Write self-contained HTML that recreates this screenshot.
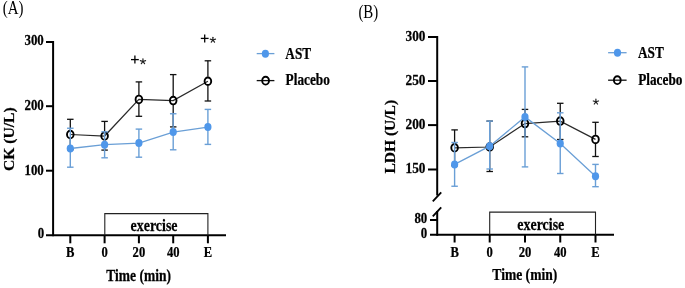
<!DOCTYPE html>
<html><head><meta charset="utf-8"><style>
html,body{margin:0;padding:0;background:#fff;width:685px;height:288px;overflow:hidden}
svg{display:block;will-change:transform;filter:blur(0.3px)}
text{font-family:"Liberation Serif",serif;stroke:#000;stroke-width:0.25px}
</style></head><body>
<svg width="685" height="288" viewBox="0 0 685 288">
<rect width="685" height="288" fill="#fff"/>
<line x1="53.1" y1="41.0" x2="53.1" y2="236.2" stroke="#000" stroke-width="2"/>
<line x1="46" y1="235.2" x2="226" y2="235.2" stroke="#000" stroke-width="2"/>
<line x1="46" y1="42.0" x2="53.1" y2="42.0" stroke="#000" stroke-width="2"/>
<text transform="translate(43.8,44.9) scale(0.92,1)" font-family="Liberation Serif" font-size="14" font-weight="bold" text-anchor="end" fill="#000">300</text>
<line x1="46" y1="106.2" x2="53.1" y2="106.2" stroke="#000" stroke-width="2"/>
<text transform="translate(43.8,109.8) scale(0.92,1)" font-family="Liberation Serif" font-size="14" font-weight="bold" text-anchor="end" fill="#000">200</text>
<line x1="46" y1="170.7" x2="53.1" y2="170.7" stroke="#000" stroke-width="2"/>
<text transform="translate(43.8,174.55) scale(0.92,1)" font-family="Liberation Serif" font-size="14" font-weight="bold" text-anchor="end" fill="#000">100</text>
<text transform="translate(44.2,238.3) scale(0.92,1)" font-family="Liberation Serif" font-size="14" font-weight="bold" text-anchor="end" fill="#000">0</text>
<line x1="70.3" y1="235.2" x2="70.3" y2="243.3" stroke="#000" stroke-width="2"/>
<text transform="translate(70.3,256.5) scale(0.9,1)" font-family="Liberation Serif" font-size="14" font-weight="bold" text-anchor="middle" fill="#000">B</text>
<line x1="104.6" y1="235.2" x2="104.6" y2="243.3" stroke="#000" stroke-width="2"/>
<text transform="translate(104.6,256.5) scale(0.9,1)" font-family="Liberation Serif" font-size="14" font-weight="bold" text-anchor="middle" fill="#000">0</text>
<line x1="138.9" y1="235.2" x2="138.9" y2="243.3" stroke="#000" stroke-width="2"/>
<text transform="translate(138.9,256.5) scale(0.9,1)" font-family="Liberation Serif" font-size="14" font-weight="bold" text-anchor="middle" fill="#000">20</text>
<line x1="173.2" y1="235.2" x2="173.2" y2="243.3" stroke="#000" stroke-width="2"/>
<text transform="translate(173.2,256.5) scale(0.9,1)" font-family="Liberation Serif" font-size="14" font-weight="bold" text-anchor="middle" fill="#000">40</text>
<line x1="207.9" y1="235.2" x2="207.9" y2="243.3" stroke="#000" stroke-width="2"/>
<text transform="translate(207.9,256.5) scale(0.9,1)" font-family="Liberation Serif" font-size="14" font-weight="bold" text-anchor="middle" fill="#000">E</text>
<path d="M104.8 235.2 V213.6 H207.9 V235.2" fill="none" stroke="#222" stroke-width="1.1"/>
<text transform="translate(154.05,230.9) scale(0.82,1)" font-family="Liberation Serif" font-size="17" font-weight="bold" text-anchor="middle" fill="#000">exercise</text>
<text transform="translate(138.6,280.8) scale(0.86,1)" font-family="Liberation Serif" font-size="15.7" font-weight="bold" text-anchor="middle" fill="#000">Time (min)</text>
<text transform="translate(13.5,139.2) rotate(-90) scale(1,0.95)" font-family="Liberation Serif" font-size="15.6" font-weight="bold" text-anchor="middle" fill="#000">CK (U/L)</text>
<text transform="translate(2.8,14.0) scale(0.82,1)" font-family="Liberation Serif" font-size="18.2" font-weight="normal" text-anchor="start" fill="#000" style="stroke:none">(A)</text>
<line x1="70.3" y1="119.3" x2="70.3" y2="130.0" stroke="#111" stroke-width="1.3"/>
<line x1="70.3" y1="139.0" x2="70.3" y2="149.7" stroke="#111" stroke-width="1.3"/>
<line x1="67.05" y1="119.3" x2="73.55" y2="119.3" stroke="#111" stroke-width="1.3"/>
<line x1="67.05" y1="149.7" x2="73.55" y2="149.7" stroke="#111" stroke-width="1.3"/>
<line x1="104.6" y1="121.4" x2="104.6" y2="131.5" stroke="#111" stroke-width="1.3"/>
<line x1="104.6" y1="140.5" x2="104.6" y2="150.1" stroke="#111" stroke-width="1.3"/>
<line x1="101.35" y1="121.4" x2="107.85" y2="121.4" stroke="#111" stroke-width="1.3"/>
<line x1="101.35" y1="150.1" x2="107.85" y2="150.1" stroke="#111" stroke-width="1.3"/>
<line x1="138.9" y1="81.9" x2="138.9" y2="94.9" stroke="#111" stroke-width="1.3"/>
<line x1="138.9" y1="103.9" x2="138.9" y2="116.3" stroke="#111" stroke-width="1.3"/>
<line x1="135.65" y1="81.9" x2="142.15" y2="81.9" stroke="#111" stroke-width="1.3"/>
<line x1="135.65" y1="116.3" x2="142.15" y2="116.3" stroke="#111" stroke-width="1.3"/>
<line x1="173.2" y1="74.6" x2="173.2" y2="96.1" stroke="#111" stroke-width="1.3"/>
<line x1="173.2" y1="105.1" x2="173.2" y2="126.9" stroke="#111" stroke-width="1.3"/>
<line x1="169.95" y1="74.6" x2="176.45" y2="74.6" stroke="#111" stroke-width="1.3"/>
<line x1="169.95" y1="126.9" x2="176.45" y2="126.9" stroke="#111" stroke-width="1.3"/>
<line x1="207.9" y1="60.8" x2="207.9" y2="76.75" stroke="#111" stroke-width="1.3"/>
<line x1="207.9" y1="85.75" x2="207.9" y2="101" stroke="#111" stroke-width="1.3"/>
<line x1="204.65" y1="60.8" x2="211.15" y2="60.8" stroke="#111" stroke-width="1.3"/>
<line x1="204.65" y1="101" x2="211.15" y2="101" stroke="#111" stroke-width="1.3"/>
<polyline points="70.3,134.5 104.6,136 138.9,99.4 173.2,100.6 207.9,81.25" fill="none" stroke="#2a2a2a" stroke-width="1.25"/>
<ellipse cx="70.3" cy="134.5" rx="3.3" ry="3.8" fill="none" stroke="#000" stroke-width="1.9"/>
<ellipse cx="104.6" cy="136" rx="3.3" ry="3.8" fill="none" stroke="#000" stroke-width="1.9"/>
<ellipse cx="138.9" cy="99.4" rx="3.3" ry="3.8" fill="none" stroke="#000" stroke-width="1.9"/>
<ellipse cx="173.2" cy="100.6" rx="3.3" ry="3.8" fill="none" stroke="#000" stroke-width="1.9"/>
<ellipse cx="207.9" cy="81.25" rx="3.3" ry="3.8" fill="none" stroke="#000" stroke-width="1.9"/>
<line x1="70.3" y1="128.25" x2="70.3" y2="167.2" stroke="#6a9fd6" stroke-width="1.4"/>
<line x1="67.05" y1="128.25" x2="73.55" y2="128.25" stroke="#6a9fd6" stroke-width="1.4"/>
<line x1="67.05" y1="167.2" x2="73.55" y2="167.2" stroke="#6a9fd6" stroke-width="1.4"/>
<line x1="104.6" y1="131.8" x2="104.6" y2="157.8" stroke="#6a9fd6" stroke-width="1.4"/>
<line x1="101.35" y1="131.8" x2="107.85" y2="131.8" stroke="#6a9fd6" stroke-width="1.4"/>
<line x1="101.35" y1="157.8" x2="107.85" y2="157.8" stroke="#6a9fd6" stroke-width="1.4"/>
<line x1="138.9" y1="129.1" x2="138.9" y2="157.2" stroke="#6a9fd6" stroke-width="1.4"/>
<line x1="135.65" y1="129.1" x2="142.15" y2="129.1" stroke="#6a9fd6" stroke-width="1.4"/>
<line x1="135.65" y1="157.2" x2="142.15" y2="157.2" stroke="#6a9fd6" stroke-width="1.4"/>
<line x1="173.2" y1="113.75" x2="173.2" y2="149.8" stroke="#6a9fd6" stroke-width="1.4"/>
<line x1="169.95" y1="113.75" x2="176.45" y2="113.75" stroke="#6a9fd6" stroke-width="1.4"/>
<line x1="169.95" y1="149.8" x2="176.45" y2="149.8" stroke="#6a9fd6" stroke-width="1.4"/>
<line x1="207.9" y1="109.4" x2="207.9" y2="144.4" stroke="#6a9fd6" stroke-width="1.4"/>
<line x1="204.65" y1="109.4" x2="211.15" y2="109.4" stroke="#6a9fd6" stroke-width="1.4"/>
<line x1="204.65" y1="144.4" x2="211.15" y2="144.4" stroke="#6a9fd6" stroke-width="1.4"/>
<polyline points="70.3,148.5 104.6,144.7 138.9,143.1 173.2,132.1 207.9,127.1" fill="none" stroke="#6a9fd6" stroke-width="1.3"/>
<ellipse cx="70.3" cy="148.5" rx="3.6" ry="4.0" fill="#4f97ea"/>
<ellipse cx="104.6" cy="144.7" rx="3.6" ry="4.0" fill="#4f97ea"/>
<ellipse cx="138.9" cy="143.1" rx="3.6" ry="4.0" fill="#4f97ea"/>
<ellipse cx="173.2" cy="132.1" rx="3.6" ry="4.0" fill="#4f97ea"/>
<ellipse cx="207.9" cy="127.1" rx="3.6" ry="4.0" fill="#4f97ea"/>
<line x1="131.0" y1="59.6" x2="138.8" y2="59.6" stroke="#000" stroke-width="1.3"/>
<line x1="134.9" y1="55.6" x2="134.9" y2="63.6" stroke="#000" stroke-width="1.3"/>
<line x1="142.95" y1="61.5" x2="142.95" y2="58.75" stroke="#222" stroke-width="1.2" stroke-linecap="round"/>
<line x1="142.95" y1="61.5" x2="145.57" y2="60.65" stroke="#222" stroke-width="1.2" stroke-linecap="round"/>
<line x1="142.95" y1="61.5" x2="144.57" y2="63.72" stroke="#222" stroke-width="1.2" stroke-linecap="round"/>
<line x1="142.95" y1="61.5" x2="141.33" y2="63.72" stroke="#222" stroke-width="1.2" stroke-linecap="round"/>
<line x1="142.95" y1="61.5" x2="140.33" y2="60.65" stroke="#222" stroke-width="1.2" stroke-linecap="round"/>
<line x1="200.79999999999998" y1="38.4" x2="208.6" y2="38.4" stroke="#000" stroke-width="1.3"/>
<line x1="204.7" y1="34.4" x2="204.7" y2="42.4" stroke="#000" stroke-width="1.3"/>
<line x1="212.9" y1="40.0" x2="212.90" y2="37.25" stroke="#222" stroke-width="1.2" stroke-linecap="round"/>
<line x1="212.9" y1="40.0" x2="215.52" y2="39.15" stroke="#222" stroke-width="1.2" stroke-linecap="round"/>
<line x1="212.9" y1="40.0" x2="214.52" y2="42.22" stroke="#222" stroke-width="1.2" stroke-linecap="round"/>
<line x1="212.9" y1="40.0" x2="211.28" y2="42.22" stroke="#222" stroke-width="1.2" stroke-linecap="round"/>
<line x1="212.9" y1="40.0" x2="210.28" y2="39.15" stroke="#222" stroke-width="1.2" stroke-linecap="round"/>
<line x1="256.7" y1="53.6" x2="274.4" y2="53.6" stroke="#6a9fd6" stroke-width="1.3"/>
<ellipse cx="265.4" cy="53.8" rx="3.6" ry="4.0" fill="#4f97ea"/>
<text transform="translate(285.3,58.8) scale(0.83,1)" font-family="Liberation Serif" font-size="16" font-weight="bold" text-anchor="start" fill="#000">AST</text>
<line x1="256.7" y1="80.6" x2="274.4" y2="80.6" stroke="#111" stroke-width="1.3"/>
<ellipse cx="265.6" cy="80.7" rx="3.4" ry="3.9" fill="none" stroke="#000" stroke-width="1.9"/>
<text transform="translate(285.6,84.8) scale(0.83,1)" font-family="Liberation Serif" font-size="16" font-weight="bold" text-anchor="start" fill="#000">Placebo</text>
<line x1="437.2" y1="36" x2="437.2" y2="195.5" stroke="#000" stroke-width="2"/>
<line x1="437.2" y1="211" x2="437.2" y2="235.8" stroke="#000" stroke-width="2"/>
<line x1="441.2" y1="192.3" x2="432.8" y2="201.3" stroke="#000" stroke-width="1.8"/>
<line x1="441.2" y1="207.3" x2="432.8" y2="216.3" stroke="#000" stroke-width="1.8"/>
<line x1="430" y1="234.8" x2="614" y2="234.8" stroke="#000" stroke-width="2"/>
<line x1="428" y1="37.0" x2="437.2" y2="37.0" stroke="#000" stroke-width="2"/>
<text transform="translate(425.5,40.6) scale(0.95,1)" font-family="Liberation Serif" font-size="14" font-weight="bold" text-anchor="end" fill="#000">300</text>
<line x1="428" y1="81.0" x2="437.2" y2="81.0" stroke="#000" stroke-width="2"/>
<text transform="translate(425.5,84.9) scale(0.95,1)" font-family="Liberation Serif" font-size="14" font-weight="bold" text-anchor="end" fill="#000">250</text>
<line x1="428" y1="125.1" x2="437.2" y2="125.1" stroke="#000" stroke-width="2"/>
<text transform="translate(425.5,128.5) scale(0.95,1)" font-family="Liberation Serif" font-size="14" font-weight="bold" text-anchor="end" fill="#000">200</text>
<line x1="428" y1="169.5" x2="437.2" y2="169.5" stroke="#000" stroke-width="2"/>
<text transform="translate(425.5,173.1) scale(0.95,1)" font-family="Liberation Serif" font-size="14" font-weight="bold" text-anchor="end" fill="#000">150</text>
<line x1="430" y1="220" x2="437.2" y2="220" stroke="#000" stroke-width="2"/>
<text transform="translate(427.3,223.1) scale(0.92,1)" font-family="Liberation Serif" font-size="14" font-weight="bold" text-anchor="end" fill="#000">80</text>
<text transform="translate(427.3,237.9) scale(0.92,1)" font-family="Liberation Serif" font-size="14" font-weight="bold" text-anchor="end" fill="#000">0</text>
<line x1="454.6" y1="234.8" x2="454.6" y2="242.5" stroke="#000" stroke-width="2"/>
<text transform="translate(454.6,256.5) scale(0.9,1)" font-family="Liberation Serif" font-size="14" font-weight="bold" text-anchor="middle" fill="#000">B</text>
<line x1="489.7" y1="234.8" x2="489.7" y2="242.5" stroke="#000" stroke-width="2"/>
<text transform="translate(489.7,256.5) scale(0.9,1)" font-family="Liberation Serif" font-size="14" font-weight="bold" text-anchor="middle" fill="#000">0</text>
<line x1="525.0" y1="234.8" x2="525.0" y2="242.5" stroke="#000" stroke-width="2"/>
<text transform="translate(525.0,256.5) scale(0.9,1)" font-family="Liberation Serif" font-size="14" font-weight="bold" text-anchor="middle" fill="#000">20</text>
<line x1="560.25" y1="234.8" x2="560.25" y2="242.5" stroke="#000" stroke-width="2"/>
<text transform="translate(560.25,256.5) scale(0.9,1)" font-family="Liberation Serif" font-size="14" font-weight="bold" text-anchor="middle" fill="#000">40</text>
<line x1="595.5" y1="234.8" x2="595.5" y2="242.5" stroke="#000" stroke-width="2"/>
<text transform="translate(595.5,256.5) scale(0.9,1)" font-family="Liberation Serif" font-size="14" font-weight="bold" text-anchor="middle" fill="#000">E</text>
<path d="M489.7 234.8 V212.1 H595.5 V234.8" fill="none" stroke="#222" stroke-width="1.1"/>
<text transform="translate(540.8000000000001,230.2) scale(0.82,1)" font-family="Liberation Serif" font-size="17" font-weight="bold" text-anchor="middle" fill="#000">exercise</text>
<text transform="translate(524.8,280.4) scale(0.865,1)" font-family="Liberation Serif" font-size="15.7" font-weight="bold" text-anchor="middle" fill="#000">Time (min)</text>
<text transform="translate(395.2,136.7) rotate(-90) scale(1,0.95)" font-family="Liberation Serif" font-size="15.5" font-weight="bold" text-anchor="middle" fill="#000">LDH (U/L)</text>
<text transform="translate(358.4,17.9) scale(0.82,1)" font-family="Liberation Serif" font-size="18.2" font-weight="normal" text-anchor="start" fill="#000" style="stroke:none">(B)</text>
<line x1="454.6" y1="129.9" x2="454.6" y2="143.3" stroke="#111" stroke-width="1.3"/>
<line x1="454.6" y1="152.3" x2="454.6" y2="165.7" stroke="#111" stroke-width="1.3"/>
<line x1="451.35" y1="129.9" x2="457.85" y2="129.9" stroke="#111" stroke-width="1.3"/>
<line x1="451.35" y1="165.7" x2="457.85" y2="165.7" stroke="#111" stroke-width="1.3"/>
<line x1="489.7" y1="121.1" x2="489.7" y2="142.5" stroke="#111" stroke-width="1.3"/>
<line x1="489.7" y1="151.5" x2="489.7" y2="171.5" stroke="#111" stroke-width="1.3"/>
<line x1="486.45" y1="121.1" x2="492.95" y2="121.1" stroke="#111" stroke-width="1.3"/>
<line x1="486.45" y1="171.5" x2="492.95" y2="171.5" stroke="#111" stroke-width="1.3"/>
<line x1="525.0" y1="109.4" x2="525.0" y2="119.1" stroke="#111" stroke-width="1.3"/>
<line x1="525.0" y1="128.1" x2="525.0" y2="136.8" stroke="#111" stroke-width="1.3"/>
<line x1="521.75" y1="109.4" x2="528.25" y2="109.4" stroke="#111" stroke-width="1.3"/>
<line x1="521.75" y1="136.8" x2="528.25" y2="136.8" stroke="#111" stroke-width="1.3"/>
<line x1="560.25" y1="103.3" x2="560.25" y2="116.6" stroke="#111" stroke-width="1.3"/>
<line x1="560.25" y1="125.6" x2="560.25" y2="139.5" stroke="#111" stroke-width="1.3"/>
<line x1="557.0" y1="103.3" x2="563.5" y2="103.3" stroke="#111" stroke-width="1.3"/>
<line x1="557.0" y1="139.5" x2="563.5" y2="139.5" stroke="#111" stroke-width="1.3"/>
<line x1="595.5" y1="122.3" x2="595.5" y2="134.9" stroke="#111" stroke-width="1.3"/>
<line x1="595.5" y1="143.9" x2="595.5" y2="156.5" stroke="#111" stroke-width="1.3"/>
<line x1="592.25" y1="122.3" x2="598.75" y2="122.3" stroke="#111" stroke-width="1.3"/>
<line x1="592.25" y1="156.5" x2="598.75" y2="156.5" stroke="#111" stroke-width="1.3"/>
<polyline points="454.6,147.8 489.7,147 525.0,123.6 560.25,121.1 595.5,139.4" fill="none" stroke="#2a2a2a" stroke-width="1.25"/>
<ellipse cx="454.6" cy="147.8" rx="3.3" ry="3.8" fill="none" stroke="#000" stroke-width="1.9"/>
<ellipse cx="489.7" cy="147" rx="3.3" ry="3.8" fill="none" stroke="#000" stroke-width="1.9"/>
<ellipse cx="525.0" cy="123.6" rx="3.3" ry="3.8" fill="none" stroke="#000" stroke-width="1.9"/>
<ellipse cx="560.25" cy="121.1" rx="3.3" ry="3.8" fill="none" stroke="#000" stroke-width="1.9"/>
<ellipse cx="595.5" cy="139.4" rx="3.3" ry="3.8" fill="none" stroke="#000" stroke-width="1.9"/>
<line x1="454.6" y1="142.5" x2="454.6" y2="186.25" stroke="#6a9fd6" stroke-width="1.4"/>
<line x1="451.35" y1="142.5" x2="457.85" y2="142.5" stroke="#6a9fd6" stroke-width="1.4"/>
<line x1="451.35" y1="186.25" x2="457.85" y2="186.25" stroke="#6a9fd6" stroke-width="1.4"/>
<line x1="489.7" y1="121.1" x2="489.7" y2="169" stroke="#6a9fd6" stroke-width="1.4"/>
<line x1="486.45" y1="121.1" x2="492.95" y2="121.1" stroke="#6a9fd6" stroke-width="1.4"/>
<line x1="486.45" y1="169" x2="492.95" y2="169" stroke="#6a9fd6" stroke-width="1.4"/>
<line x1="525.0" y1="66.9" x2="525.0" y2="166.9" stroke="#6a9fd6" stroke-width="1.4"/>
<line x1="521.75" y1="66.9" x2="528.25" y2="66.9" stroke="#6a9fd6" stroke-width="1.4"/>
<line x1="521.75" y1="166.9" x2="528.25" y2="166.9" stroke="#6a9fd6" stroke-width="1.4"/>
<line x1="560.25" y1="112.8" x2="560.25" y2="173.5" stroke="#6a9fd6" stroke-width="1.4"/>
<line x1="557.0" y1="112.8" x2="563.5" y2="112.8" stroke="#6a9fd6" stroke-width="1.4"/>
<line x1="557.0" y1="173.5" x2="563.5" y2="173.5" stroke="#6a9fd6" stroke-width="1.4"/>
<line x1="595.5" y1="164.4" x2="595.5" y2="186.7" stroke="#6a9fd6" stroke-width="1.4"/>
<line x1="592.25" y1="164.4" x2="598.75" y2="164.4" stroke="#6a9fd6" stroke-width="1.4"/>
<line x1="592.25" y1="186.7" x2="598.75" y2="186.7" stroke="#6a9fd6" stroke-width="1.4"/>
<polyline points="454.6,164.4 489.7,146.2 525.0,116.9 560.25,143.5 595.5,176.25" fill="none" stroke="#6a9fd6" stroke-width="1.3"/>
<ellipse cx="454.6" cy="164.4" rx="3.6" ry="4.0" fill="#4f97ea"/>
<ellipse cx="489.7" cy="146.2" rx="3.6" ry="4.0" fill="#4f97ea"/>
<ellipse cx="525.0" cy="116.9" rx="3.6" ry="4.0" fill="#4f97ea"/>
<ellipse cx="560.25" cy="143.5" rx="3.6" ry="4.0" fill="#4f97ea"/>
<ellipse cx="595.5" cy="176.25" rx="3.6" ry="4.0" fill="#4f97ea"/>
<line x1="595.9" y1="101.8" x2="595.90" y2="99.05" stroke="#222" stroke-width="1.2" stroke-linecap="round"/>
<line x1="595.9" y1="101.8" x2="598.52" y2="100.95" stroke="#222" stroke-width="1.2" stroke-linecap="round"/>
<line x1="595.9" y1="101.8" x2="597.52" y2="104.02" stroke="#222" stroke-width="1.2" stroke-linecap="round"/>
<line x1="595.9" y1="101.8" x2="594.28" y2="104.02" stroke="#222" stroke-width="1.2" stroke-linecap="round"/>
<line x1="595.9" y1="101.8" x2="593.28" y2="100.95" stroke="#222" stroke-width="1.2" stroke-linecap="round"/>
<line x1="608.1" y1="52.7" x2="626.6" y2="52.7" stroke="#6a9fd6" stroke-width="1.3"/>
<ellipse cx="617.5" cy="52.8" rx="3.6" ry="4.0" fill="#4f97ea"/>
<text transform="translate(638.0,57.8) scale(0.83,1)" font-family="Liberation Serif" font-size="16" font-weight="bold" text-anchor="start" fill="#000">AST</text>
<line x1="608.1" y1="80.2" x2="626.6" y2="80.2" stroke="#111" stroke-width="1.3"/>
<ellipse cx="617.3" cy="80.2" rx="3.4" ry="3.9" fill="none" stroke="#000" stroke-width="1.9"/>
<text transform="translate(638.2,85.3) scale(0.83,1)" font-family="Liberation Serif" font-size="16" font-weight="bold" text-anchor="start" fill="#000">Placebo</text>
</svg>
</body></html>
